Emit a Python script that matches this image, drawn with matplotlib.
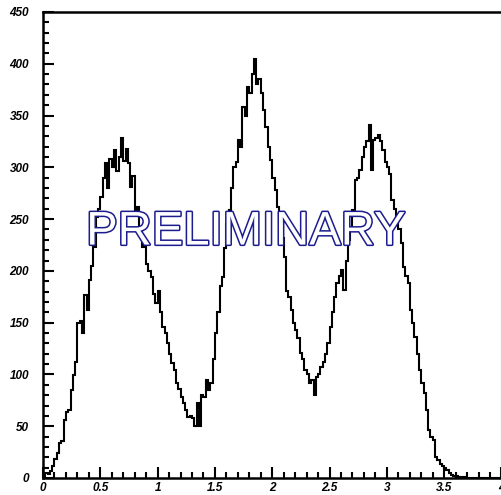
import numpy as np
import matplotlib.pyplot as plt
import matplotlib.patheffects as pe
from matplotlib.ticker import MultipleLocator

# Histogram: 200 bins of width 0.02 from 0 to 4
x_min, x_max, n_bins = 0.0, 4.0, 200
counts = [
    2, 5, 4, 7, 12, 18, 24, 34, 36, 56,
    64, 66, 85, 99, 112, 150, 152, 140, 177, 162,
    191, 205, 223, 252, 260, 271, 290, 304, 280, 308,
    300, 317, 296, 310, 328, 306, 318, 304, 281, 292,
    259, 262, 240, 223, 230, 207, 200, 194, 178, 169,
    181, 160, 146, 140, 130, 120, 111, 104, 92, 86,
    78, 72, 66, 59, 60, 58, 50, 72, 50, 80,
    78, 95, 85, 92, 115, 140, 160, 185, 194, 222,
    245, 259, 280, 300, 305, 326, 320, 358, 350, 378,
    372, 390, 405, 380, 385, 372, 355, 339, 320, 307,
    290, 278, 262, 252, 232, 213, 181, 175, 162, 150,
    143, 135, 121, 115, 104, 100, 92, 95, 80, 98,
    100, 107, 112, 120, 130, 146, 160, 175, 188, 195,
    201, 182, 210, 230, 240, 259, 288, 290, 297, 310,
    320, 325, 341, 297, 326, 328, 331, 325, 317, 305,
    300, 294, 268, 260, 252, 240, 227, 204, 195, 188,
    162, 150, 136, 120, 104, 92, 82, 66, 46, 40,
    37, 20, 17, 14, 12, 10, 8, 5, 3, 2,
    2, 1, 1, 1, 0, 0, 0, 0, 0, 0,
    0, 0, 0, 0, 0, 0, 0, 0, 0, 0,
]
edges = np.linspace(x_min, x_max, n_bins + 1)

fig = plt.figure(figsize=(5.02, 4.95), dpi=100)
ax = fig.add_axes([43 / 502, 17 / 495, 458.5 / 502, 466 / 495])

ax.stairs(counts, edges, color="black", linewidth=1.5)

ax.set_xlim(x_min, x_max)
ax.set_ylim(0, 450)

ax.xaxis.set_major_locator(MultipleLocator(0.5))
ax.xaxis.set_minor_locator(MultipleLocator(0.1))
ax.yaxis.set_major_locator(MultipleLocator(50))
ax.yaxis.set_minor_locator(MultipleLocator(10))
ax.xaxis.set_major_formatter(lambda v, pos: f"{v:g}")

ax.tick_params(which="both", direction="in", width=1.5, top=False, right=False)
ax.tick_params(axis="y", which="major", length=8, pad=10)
ax.tick_params(axis="x", which="major", length=8, pad=3)
ax.tick_params(which="minor", length=4)
for lab in ax.get_xticklabels() + ax.get_yticklabels():
    lab.set_fontfamily("Liberation Sans")
    lab.set_fontweight("bold")
    lab.set_fontstyle("italic")
    lab.set_fontsize(8.5)
for side in ax.spines.values():
    side.set_linewidth(1.8)
ax.spines["right"].set_linewidth(0.8)
ax.spines["right"].set_color("#999999")

# Watermark
ax.text(1.77, 237, "PRELIMINARY", ha="center", va="center",
        fontsize=34, family="Liberation Sans", color="white",
        path_effects=[pe.withStroke(linewidth=2.2, foreground="#1c1c8e")])

fig.savefig("out.png", dpi=100)
